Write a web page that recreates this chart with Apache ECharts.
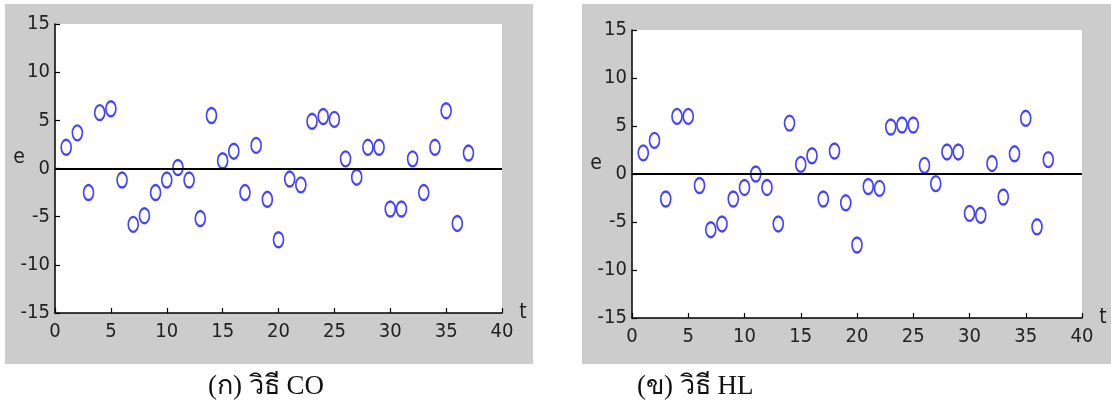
<!DOCTYPE html>
<html>
<head>
<meta charset="utf-8">
<script src="https://cdn.jsdelivr.net/npm/echarts@6/dist/echarts.min.js"></script>
<style>
  html, body { margin: 0; padding: 0; background: #fff; }
  #chart { width: 1111px; height: 412px; }
</style>
</head>
<body>
<div id="chart"></div>
<script>
// time index t = 1..37
const tValues = [1,2,3,4,5,6,7,8,9,10,11,12,13,14,15,16,17,18,19,20,21,22,23,24,25,26,27,28,29,30,31,32,33,34,35,36,37]

// residuals e, method CO (left)
const residCO = [2.2, 3.7, -2.5, 5.8, 6.2, -1.2, -5.8, -4.9, -2.5, -1.2, 0.1, -1.2, -5.2, 5.5, 0.8, 1.8, -2.5, 2.4, -3.2, -7.4,
  -1.1, -1.7, 4.9, 5.4, 5.1, 1.0, -0.9, 2.2, 2.2, -4.2, -4.2, 1.0, -2.5, 2.2, 6.0, -5.7, 1.6]

// residuals e, method HL (right)
const residHL = [2.2, 3.5, -2.6, 6.0, 6.0, -1.2, -5.8, -5.2, -2.6, -1.4, 0.0, -1.4, -5.2, 5.3, 1.0, 1.9, -2.6, 2.4, -3.0, -7.4,
  -1.3, -1.5, 4.9, 5.1, 5.1, 0.9, -1.0, 2.3, 2.3, -4.1, -4.3, 1.1, -2.4, 2.1, 5.8, -5.5, 1.5]

const captions = ['(ก) วิธี CO', '(ข) วิธี HL']

// narrow tick font
const tickFont = { fontFamily: '"DejaVu Sans Condensed", "Liberation Sans Narrow", sans-serif', fontSize: 20, color: '#222' }

function makeX(gridIndex) {
  return {
    type: 'value', gridIndex: gridIndex, min: 0, max: 40, interval: 5,
    name: 't', nameLocation: 'end', nameGap: 12,
    nameTextStyle: Object.assign({}, tickFont, { fontSize: 21 }),
    axisLine: { onZero: false, lineStyle: { color: '#000', width: 1.5 } },
    axisTick: { inside: true, length: 5, lineStyle: { color: '#000', width: 1.2 } },
    axisLabel: Object.assign({ margin: 9 }, tickFont),
    splitLine: { show: false }
  }
}

function makeY(gridIndex) {
  return {
    type: 'value', gridIndex: gridIndex, min: -15, max: 15, interval: 5,
    name: 'e', nameLocation: 'middle', nameGap: 30, nameRotate: 0,
    nameMoveOverlap: false,
    nameTextStyle: Object.assign({}, tickFont, { fontSize: 21, verticalAlign: 'bottom' }),
    axisLine: { onZero: false, lineStyle: { color: '#000', width: 1.5 } },
    axisTick: { inside: true, length: 5, lineStyle: { color: '#000', width: 1.2 } },
    axisLabel: Object.assign({ margin: 5 }, tickFont),
    splitLine: { show: false }
  }
}

function makeSeries(idx, values) {
  return {
    type: 'scatter', xAxisIndex: idx, yAxisIndex: idx,
    data: tValues.map((t, i) => [t, values[i]]),
    symbol: 'emptyCircle',
    symbolSize: [10, 15],
    itemStyle: { color: '#1414ff', borderWidth: 1.5 },
    markLine: {
      silent: true, symbol: 'none',
      label: { show: false },
      lineStyle: { color: '#000', width: 2, type: 'solid' },
      data: [{ yAxis: 0 }]
    },
    z: 3
  }
}

const chart = echarts.init(document.getElementById('chart'))

chart.setOption({
  animation: false,
  backgroundColor: '#fff',
  graphic: [
    { type: 'rect', z: -10, shape: { x: 5, y: 4, width: 528, height: 360 }, style: { fill: '#cccccc' } },
    { type: 'rect', z: -10, shape: { x: 582, y: 4, width: 529, height: 360 }, style: { fill: '#cccccc' } },
    { type: 'text', left: 208, top: 373, style: { text: captions[0], font: '27px "Liberation Serif", serif', fill: '#111' } },
    { type: 'text', left: 637, top: 373, style: { text: captions[1], font: '27px "Liberation Serif", serif', fill: '#111' } }
  ],
  grid: [
    { left: 55, top: 24, width: 447, height: 289, show: true, backgroundColor: '#fff', borderWidth: 0 },
    { left: 632, top: 30, width: 450, height: 288, show: true, backgroundColor: '#fff', borderWidth: 0 }
  ],
  xAxis: [makeX(0), makeX(1)],
  yAxis: [makeY(0), makeY(1)],
  series: [makeSeries(0, residCO), makeSeries(1, residHL)]
})
</script>
</body>
</html>
